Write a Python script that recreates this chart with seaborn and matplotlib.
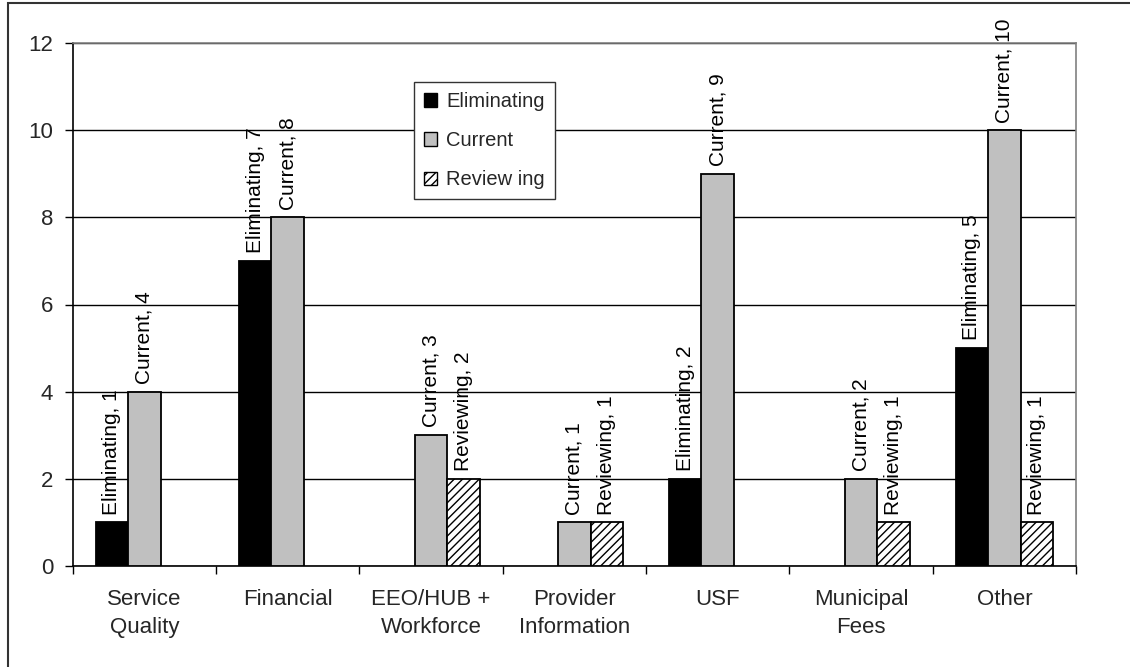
import matplotlib
matplotlib.use("Agg")
import matplotlib.pyplot as plt
import matplotlib.patches as mpatches
import seaborn as sns
import pandas as pd
import numpy as np

categories = ["Service\nQuality", "Financial", "EEO/HUB +\nWorkforce", "Provider\nInformation",
              "USF", "Municipal\nFees", "Other"]
series = ["Eliminating", "Current", "Reviewing"]
legend_labels = ["Eliminating", "Current", "Review ing"]
eliminating = [1, 7, None, None, 2, None, 5]
current = [4, 8, 3, 1, 9, 2, 10]
reviewing = [None, None, 2, 1, None, 1, 1]
y_ticks = [0, 2, 4, 6, 8, 10, 12]

rows = []
for s, vals in zip(series, [eliminating, current, reviewing]):
    for c, v in zip(categories, vals):
        if v is not None:
            rows.append({"category": c, "series": s, "value": v})
df = pd.DataFrame(rows)

sns.set_style("white")
plt.rcParams['font.family'] = ['Liberation Sans', 'DejaVu Sans']
plt.rcParams['hatch.color'] = '#555555'
plt.rcParams['hatch.linewidth'] = 1.0
FS = 16
FS_LAB = 15
FS_LEG = 14.5

fig = plt.figure(figsize=(11.3, 6.67), dpi=100)
ax = fig.add_axes([72.7/1130, 1-565.7/667, (1076-72.7)/1130, (565.7-43.3)/667])

palette = {"Eliminating": "#000000", "Current": "#C0C0C0", "Reviewing": "#FFFFFF"}
sns.barplot(data=df, x="category", y="value", hue="series", order=categories,
            hue_order=series, palette=palette, width=0.68, dodge=True,
            edgecolor="black", linewidth=1.3, saturation=1, errorbar=None,
            legend=False, ax=ax, zorder=3)

for name, cont in zip(series, ax.containers):
    for b in cont:
        if name == "Reviewing":
            b.set_hatch("////")
    labels = [f"{name}, {int(round(b.get_height()))}" for b in cont]
    ax.bar_label(cont, labels=labels, rotation=90, padding=5.5, fontsize=FS_LAB, color="black")

ax.set_ylim(0, 12)
ax.set_xlim(-0.5, len(categories) - 0.5)
ax.set_yticks(y_ticks)
ax.set_yticklabels([str(t) for t in y_ticks], fontsize=FS)
ax.yaxis.grid(True, color="black", linewidth=1.0, zorder=0)
ax.set_axisbelow(True)

# major ticks at category boundaries, labels at centers
ax.set_xticks(np.arange(-0.5, len(categories)), labels=[""] * (len(categories) + 1))
ax.set_xticks(np.arange(len(categories)), labels=categories, minor=True)
ax.tick_params(axis="x", which="major", direction="out", length=6, width=1, color="black", bottom=True)
ax.tick_params(axis="x", which="minor", length=0, pad=17, labelsize=FS)
ax.tick_params(axis="y", direction="out", length=6, width=1, color="black", left=True, pad=8)
for lab in ax.get_xticklabels(minor=True):
    lab.set_linespacing(1.4)
ax.set_xlabel("")
ax.set_ylabel("")

for side in ["left", "bottom"]:
    ax.spines[side].set_color("black")
    ax.spines[side].set_linewidth(1.2)
for side in ["top", "right"]:
    ax.spines[side].set_color("#808080")
    ax.spines[side].set_linewidth(1.2)

handles = [
    mpatches.Patch(facecolor="#000000", edgecolor="black", linewidth=1),
    mpatches.Patch(facecolor="#C0C0C0", edgecolor="black", linewidth=1),
    mpatches.Patch(facecolor="#FFFFFF", edgecolor="black", linewidth=1, hatch="////"),
]
leg = ax.legend(handles, legend_labels, loc="upper left",
                bbox_to_anchor=((414-72.7)/1003.3, (565.7-82)/522.4), borderaxespad=0,
                fontsize=FS_LEG, handlelength=0.65, handleheight=0.65, handletextpad=0.45,
                labelspacing=1.0, borderpad=0.5, fancybox=False, framealpha=1,
                edgecolor="#333333")
leg.get_frame().set_linewidth(1.0)
leg.set_zorder(5)

fig.patches.append(mpatches.Rectangle((8/1130, -0.1), 1.2, 1.1 - 3/667,
                                      transform=fig.transFigure, fill=False,
                                      edgecolor="#333333", linewidth=1.5))

fig.savefig("out.png", dpi=100, facecolor="white")
